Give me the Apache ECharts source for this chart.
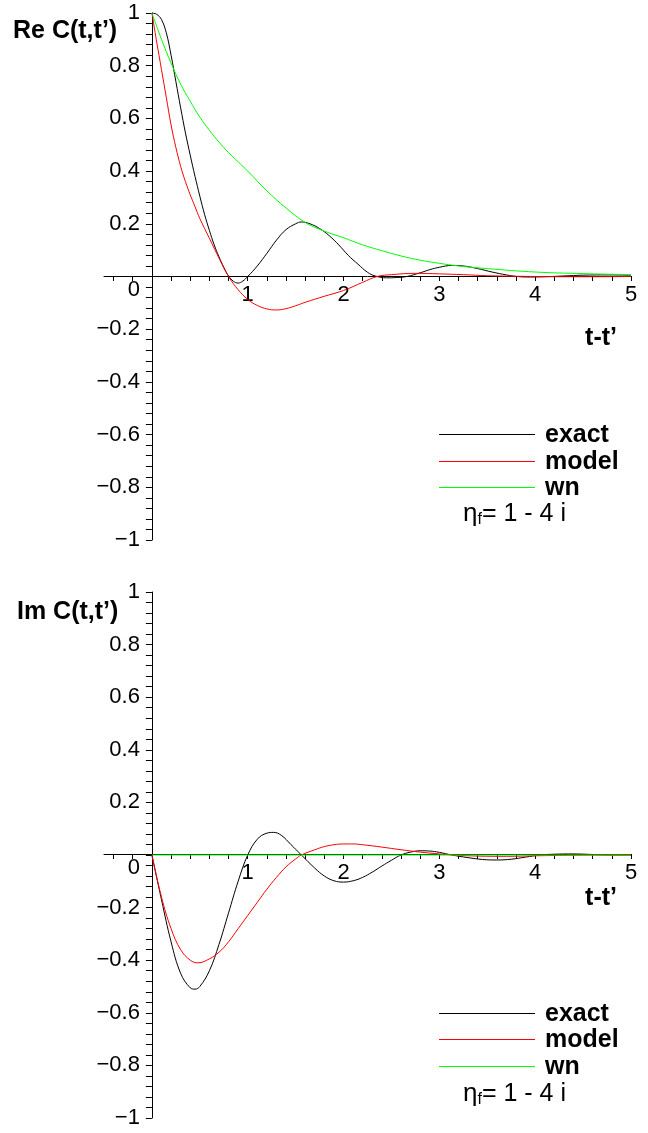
<!DOCTYPE html>
<html>
<head>
<meta charset="utf-8">
<script src="https://cdn.jsdelivr.net/npm/echarts@6/dist/echarts.min.js"></script>
<style>
  html, body { margin: 0; padding: 0; background: #fff; }
  #chart { width: 648px; height: 1133px; }
</style>
</head>
<body>
<div id="chart"></div>
<script>
// Re C(t,t') - exact
var reExactT = [0, 0.05, 0.1, 0.15, 0.2, 0.25, 0.3, 0.35, 0.4, 0.45, 0.5, 0.55, 0.6, 0.65, 0.7, 0.75, 0.8, 0.85, 0.9, 0.95, 1.0,
  1.1, 1.2, 1.3, 1.4, 1.5, 1.56, 1.65, 1.75, 1.85, 1.95, 2.05, 2.15, 2.25, 2.33, 2.45, 2.55, 2.66, 2.8, 2.9, 3.0, 3.13, 3.25, 3.4, 3.55, 3.7, 3.81, 3.95, 4.1, 4.3, 4.5, 4.75, 5.0];
var reExact = [1, 0.995, 0.975, 0.925, 0.84, 0.74, 0.64, 0.545, 0.46, 0.38, 0.305, 0.235, 0.175, 0.12, 0.075, 0.035, 0.002, -0.018, -0.025, -0.017, 0.0,
  0.04, 0.088, 0.138, 0.178, 0.2, 0.207, 0.2, 0.182, 0.155, 0.12, 0.08, 0.047, 0.016, 0.002, -0.005, -0.004, 0.0, 0.014, 0.026, 0.035, 0.042, 0.04, 0.03, 0.017, 0.006, 0.0, -0.002, -0.001, 0.002, 0.005, 0.006, 0.005];
// Re C(t,t') - model
var reModelT = [0, 0.05, 0.1, 0.15, 0.2, 0.25, 0.3, 0.35, 0.4, 0.45, 0.5, 0.6, 0.7, 0.8, 0.9, 1.0, 1.1, 1.2, 1.3, 1.4, 1.5, 1.6, 1.8, 2.0, 2.2, 2.35, 2.5, 2.75, 3.0, 3.25, 3.5, 4.0, 4.5, 5.0];
var reModel = [1, 0.89, 0.785, 0.68, 0.575, 0.49, 0.418, 0.36, 0.31, 0.265, 0.22, 0.145, 0.07, 0.0, -0.05, -0.087, -0.11, -0.123, -0.127, -0.122, -0.111, -0.098, -0.075, -0.053, -0.022, 0.0, 0.007, 0.012, 0.01, 0.007, 0.003, 0.0, -0.001, 0.0];
// Re C(t,t') - wn
var reWnT = [0, 0.1, 0.2, 0.3, 0.4, 0.5, 0.6, 0.7, 0.8, 0.9, 1.0, 1.2, 1.4, 1.6, 1.8, 2.0, 2.2, 2.4, 2.6, 2.8, 3.0, 3.2, 3.5, 4.0, 4.5, 5.0];
var reWn = [1, 0.9, 0.81, 0.73, 0.665, 0.605, 0.555, 0.51, 0.47, 0.435, 0.4, 0.325, 0.26, 0.205, 0.172, 0.147, 0.12, 0.098, 0.078, 0.062, 0.05, 0.04, 0.03, 0.017, 0.011, 0.007];

// Im C(t,t') - exact
var imExactT = [0, 0.1, 0.2, 0.3, 0.4, 0.45, 0.5, 0.6, 0.7, 0.8, 0.9, 1.0, 1.1, 1.2, 1.27, 1.35, 1.45, 1.56, 1.7, 1.8, 1.9, 2.0, 2.1, 2.2, 2.3, 2.4, 2.5, 2.6, 2.7, 2.8, 2.9, 3.0, 3.13, 3.3, 3.45, 3.6, 3.75, 3.9, 4.05, 4.2, 4.4, 4.6, 4.8, 5.0];
var imExact = [0, -0.17, -0.33, -0.45, -0.505, -0.51, -0.5, -0.44, -0.34, -0.22, -0.1, 0.0, 0.06, 0.083, 0.086, 0.075, 0.04, 0.0, -0.05, -0.08, -0.098, -0.103, -0.098, -0.085, -0.065, -0.042, -0.02, 0.0, 0.011, 0.016, 0.015, 0.01, 0.0, -0.01, -0.017, -0.019, -0.016, -0.008, 0.0, 0.003, 0.004, 0.002, 0.0, 0.0];
// Im C(t,t') - model
var imModelT = [0, 0.1, 0.2, 0.3, 0.4, 0.48, 0.6, 0.7, 0.8, 0.9, 1.0, 1.1, 1.2, 1.3, 1.4, 1.5, 1.56, 1.7, 1.8, 1.9, 2.0, 2.1, 2.2, 2.4, 2.6, 2.8, 3.0, 3.15, 3.4, 3.7, 4.0, 4.4, 5.0];
var imModel = [0, -0.16, -0.28, -0.36, -0.4, -0.41, -0.395, -0.37, -0.33, -0.28, -0.23, -0.18, -0.13, -0.085, -0.045, -0.015, 0.0, 0.02, 0.032, 0.039, 0.042, 0.042, 0.039, 0.03, 0.02, 0.011, 0.004, 0.0, -0.004, -0.005, -0.003, -0.001, 0.0];
// Im C(t,t') - wn
var imWnT = [0, 5];
var imWn = [0, 0];

var xTickValues = [-0.4, -0.2, 0.2, 0.4, 0.6, 0.8, 1, 1.2, 1.4, 1.6, 1.8, 2, 2.2, 2.4, 2.6, 2.8, 3, 3.2, 3.4, 3.6, 3.8, 4, 4.2, 4.4, 4.6, 4.8, 5];
var xLabelValues = [1, 2, 3, 4, 5];
var seriesNames = ['exact', 'model', 'wn'];
var seriesColors = ['#000000', '#ff0000', '#00ff00'];

var FONT = '"Liberation Sans", Arial, sans-serif';

function zip(t, v) {
  return t.map(function (x, i) { return [x, v[i]]; });
}

// x axis moved up from the grid bottom to y = 0
function makeX(idx) {
  return {
    type: 'value', gridIndex: idx, min: -0.5, max: 5, position: 'bottom', offset: -264,
    axisLine: { onZero: false, lineStyle: { color: '#000', width: 1 } },
    axisTick: { show: true, length: 5, customValues: xTickValues, lineStyle: { color: '#000' } },
    axisLabel: { customValues: xLabelValues, margin: 8, fontSize: 22, color: '#000', fontFamily: FONT },
    splitLine: { show: false }
  };
}

// y axis moved right from the grid left edge to x = 0
function makeY(idx) {
  return {
    type: 'value', gridIndex: idx, min: -1, max: 1, interval: 0.2, position: 'left', offset: -47.9,
    axisLine: { show: true, onZero: false, lineStyle: { color: '#000', width: 1 } },
    axisTick: { show: true, length: 6, lineStyle: { color: '#000' } },
    minorTick: { show: true, splitNumber: 5, length: 6, lineStyle: { color: '#000' } },
    axisLabel: {
      margin: 12, fontSize: 22, color: '#000', fontFamily: FONT,
      formatter: function (v) {
        var s = String(Math.round(v * 10) / 10).replace('-', '\u2212');
        if (Math.abs(v) < 1e-9) return '{z|0}';
        return s;
      },
      rich: { z: { fontSize: 22, fontFamily: FONT, color: '#000', padding: [26, 0, 0, 0] } }
    },
    splitLine: { show: false }
  };
}

function makeSeries(name, color, data, idx) {
  return {
    name: name, type: 'line', xAxisIndex: idx, yAxisIndex: idx,
    data: data, symbol: 'none', smooth: 0.4,
    lineStyle: { color: color, width: 1 }, itemStyle: { color: color },
    animation: false
  };
}

// hand-drawn key: a short line and a bold name per series
function keyItems(rowsY) {
  var out = [];
  seriesNames.forEach(function (name, i) {
    out.push({
      type: 'line', shape: { x1: 439, y1: rowsY[i] + 0.5, x2: 535, y2: rowsY[i] + 0.5 },
      style: { stroke: seriesColors[i], lineWidth: 1 }
    });
    out.push({
      type: 'text', x: 545, y: rowsY[i] + 1,
      style: { text: name, fontSize: 25, fontWeight: 'bold', fontFamily: FONT, fill: '#000', verticalAlign: 'middle' }
    });
  });
  return out;
}

function etaText(y) {
  return {
    type: 'text', left: 463, top: y,
    style: {
      text: '{e|\u03b7}{s|f}{a|= 1 - 4 i}',
      rich: {
        e: { fontSize: 26, fontFamily: FONT, fill: '#000' },
        a: { fontSize: 25, fontFamily: FONT, fill: '#000' },
        s: { fontSize: 16, fontFamily: FONT, fill: '#000', padding: [12, 0, 0, 0] }
      }
    }
  };
}

function boldText(txt, x, y, align) {
  return {
    type: 'text', x: x, y: y,
    style: { text: txt, fontSize: 25, fontWeight: 'bold', fontFamily: FONT, fill: '#000', align: align, verticalAlign: 'middle' }
  };
}

var chart = echarts.init(document.getElementById('chart'));
chart.setOption({
  backgroundColor: '#fff',
  animation: false,
  grid: [
    { left: 104, right: 17, top: 13, height: 527 },
    { left: 104, right: 17, top: 592, height: 526 }
  ],
  xAxis: [makeX(0), makeX(1)],
  yAxis: [makeY(0), makeY(1)],
  series: [
    makeSeries('exact', seriesColors[0], zip(reExactT, reExact), 0),
    makeSeries('model', seriesColors[1], zip(reModelT, reModel), 0),
    makeSeries('wn', seriesColors[2], zip(reWnT, reWn), 0),
    makeSeries('exact', seriesColors[0], zip(imExactT, imExact), 1),
    makeSeries('model', seriesColors[1], zip(imModelT, imModel), 1),
    makeSeries('wn', seriesColors[2], zip(imWnT, imWn), 1)
  ],
  graphic: [
    boldText('Re C(t,t\u2019)', 13, 31, 'left'),
    boldText('t-t\u2019', 617, 338, 'right'),
    boldText('Im C(t,t\u2019)', 17, 612, 'left'),
    boldText('t-t\u2019', 617, 898, 'right'),
    etaText(501),
    etaText(1081)
  ].concat(keyItems([434, 461, 487]), keyItems([1013, 1039, 1066]))
});
</script>
</body>
</html>
